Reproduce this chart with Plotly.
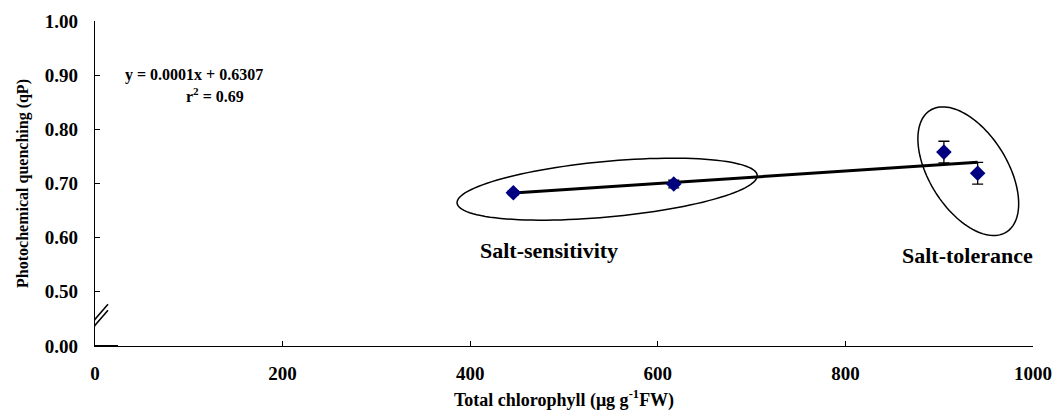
import numpy as np
import plotly.graph_objects as go

# ---- data ----
chlorophyll = [446, 617, 905, 941]          # Total chlorophyll (ug g-1 FW)
qp = [0.683, 0.699, 0.758, 0.719]           # Photochemical quenching
qp_err = [0.004, 0.007, 0.020, 0.020]

x_ticks = [0, 200, 400, 600, 800, 1000]
x_ticktext = ["0", "200", "400", "600", "800", "1000"]
y_ticks = [0.4, 0.5, 0.6, 0.7, 0.8, 0.9, 1.0]
y_ticktext = ["0.00", "0.50", "0.60", "0.70", "0.80", "0.90", "1.00"]

equation_text = "y = 0.0001x + 0.6307"
r2_text = "r<sup>2</sup> = 0.69"

# group annotations: label, label position, ellipse centre and axis vectors (data units)
groups = [
    dict(label="Salt-sensitivity", lx=484, ly=0.577,
         cx=546, cy=0.6895, ax=(160, 0.0257), bx=(2.7, -0.0511)),
    dict(label="Salt-tolerance", lx=930, ly=0.567,
         cx=931, cy=0.7227, ax=(-40.5, 0.1125), bx=(35.3, 0.038)),
]

FONT = "Times New Roman, Liberation Serif, serif"

fig = go.Figure()

# trend line from least squares fit
slope, intercept = np.polyfit(chlorophyll, qp, 1)
xl = [min(chlorophyll), max(chlorophyll)]
fig.add_trace(go.Scatter(x=xl, y=[slope * v + intercept for v in xl], mode="lines",
                         line=dict(color="black", width=3), hoverinfo="skip",
                         showlegend=False))

fig.add_trace(go.Scatter(
    x=chlorophyll, y=qp, mode="markers",
    marker=dict(symbol="diamond", size=12, color="#000080"),
    error_y=dict(type="data", array=qp_err, visible=True, color="black",
                 thickness=1.3, width=5.5),
    showlegend=False))

# ellipses
t = np.linspace(0, 2 * np.pi, 120)
for g in groups:
    xs = g["cx"] + g["ax"][0] * np.cos(t) + g["bx"][0] * np.sin(t)
    ys = g["cy"] + g["ax"][1] * np.cos(t) + g["bx"][1] * np.sin(t)
    path = "M " + " L ".join(f"{a:.3f},{b:.5f}" for a, b in zip(xs, ys)) + " Z"
    fig.add_shape(type="path", path=path, xref="x", yref="y",
                  line=dict(color="black", width=1.5))
    fig.add_annotation(x=g["lx"], y=g["ly"], xref="x", yref="y", text=g["label"],
                       showarrow=False,
                       font=dict(family=FONT, size=22, color="black", weight="bold"))

# axis break marks
for dy in (-3, 3):
    fig.add_shape(type="line", xref="x", yref="y", xsizemode="pixel", ysizemode="pixel",
                  xanchor=0, yanchor=0.444,
                  x0=-12, y0=-14 + dy, x1=13, y1=15 + dy,
                  line=dict(color="black", width=1.5))

# short segment along the x axis at the origin
fig.add_shape(type="line", xref="x", yref="y", xsizemode="pixel", ysizemode="pixel",
              xanchor=0, yanchor=0.4, x0=0, y0=0, x1=23, y1=0,
              line=dict(color="black", width=2))

fig.add_annotation(x=0.1055, y=0.867, xref="paper", yref="paper", text=equation_text,
                   showarrow=False, xanchor="center",
                   font=dict(family=FONT, size=16, color="black", weight="bold"))
fig.add_annotation(x=0.128, y=0.81, xref="paper", yref="paper", text=r2_text,
                   showarrow=False, xanchor="center",
                   font=dict(family=FONT, size=16, color="black", weight="bold"))

# the page body adds an 8px offset, so margins are shifted accordingly
fig.update_layout(
    width=1060, height=417,
    margin=dict(l=87, r=35, t=13, b=79),
    paper_bgcolor="white", plot_bgcolor="white",
    font=dict(family=FONT, color="black"),
    xaxis=dict(range=[0, 1000], tickvals=x_ticks, ticktext=x_ticktext,
               ticks="inside", ticklen=5, tickcolor="black", automargin=False,
               showline=True, linecolor="black", linewidth=1.2,
               showgrid=False, zeroline=False, ticklabelstandoff=10,
               tickfont=dict(family=FONT, size=19, weight="bold"),
               title=dict(text="Total chlorophyll (μg g<sup>-1</sup>FW)", standoff=10,
                          font=dict(family=FONT, size=18, weight="bold"))),
    yaxis=dict(range=[0.4, 1.0], tickvals=y_ticks, ticktext=y_ticktext,
               ticks="inside", ticklen=5, tickcolor="black", automargin=False,
               showline=True, linecolor="black", linewidth=1.2,
               showgrid=False, zeroline=False, ticklabelstandoff=12,
               tickfont=dict(family=FONT, size=19, weight="bold"),
               title=dict(text="Photochemical quenching (qP)", standoff=12,
                          font=dict(family=FONT, size=16, weight="bold"))),
)

fig.write_html("out.html")
